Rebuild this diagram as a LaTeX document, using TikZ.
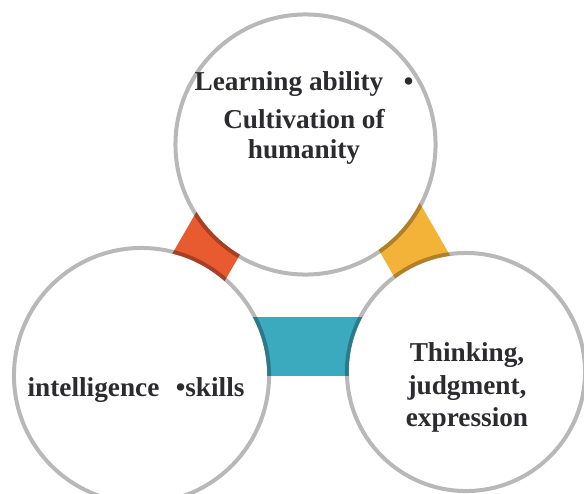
\documentclass[tikz,border=0pt]{standalone}
\usepackage{fontspec}
\setmainfont{Liberation Serif}
\usepackage{tikz}
\definecolor{bandorange}{RGB}{232,90,48}
\definecolor{bandyellow}{RGB}{243,178,56}
\definecolor{bandteal}{RGB}{59,170,190}
\definecolor{inkgray}{RGB}{43,43,48}

\begin{document}
\begin{tikzpicture}[x=0.025cm, y=-0.025cm,
  every node/.style={font=\fontsize{19.4}{21.3}\selectfont\bfseries, text=inkgray},
  ring/.style={circle, draw=black, draw opacity=0.28, line width=1mm, inner sep=0pt},
  disc/.style={fill=white},
  band/.style={line width=1.475cm, line cap=butt},
  txt/.style={align=center, inner sep=0pt}]
\useasboundingbox (0,0) rectangle (584,493);
% corners of the band triangle
\coordinate (ta) at (310.7,73);
\coordinate (tl) at (152.8,346.5);
\coordinate (tr) at (468.5,346.5);
\draw[band, bandorange] (tl) -- (ta);
\draw[band, bandyellow] (ta) -- (tr);
\draw[band, bandteal] (tl) -- (tr);
% white discs, then the rings on top
\fill[disc] (305.5,144.5) circle[radius=3.2cm];
\fill[disc] (141.5,375.5) circle[radius=3.14cm];
\fill[disc] (466,372) circle[radius=2.93cm];
\node[ring, minimum size=6.5cm] (top) at (305.5,144.5) {};
\node[ring, minimum size=6.375cm] (left) at (141.5,375.5) {};
\node[ring, minimum size=5.95cm] (right) at (466,372) {};
\node[txt] (topText) at (304,118) {Learning ability\hspace{0.75em}\textbullet\\[6pt]Cultivation of\\humanity};
\node[txt] (leftText) at (136,390.4) {intelligence\hspace{0.6em}\textbullet skills};
\node[txt, font=\fontsize{19.4}{22.9}\selectfont\bfseries] (rightText) at (467,387.5) {Thinking,\\judgment,\\expression};
\end{tikzpicture}
\end{document}
